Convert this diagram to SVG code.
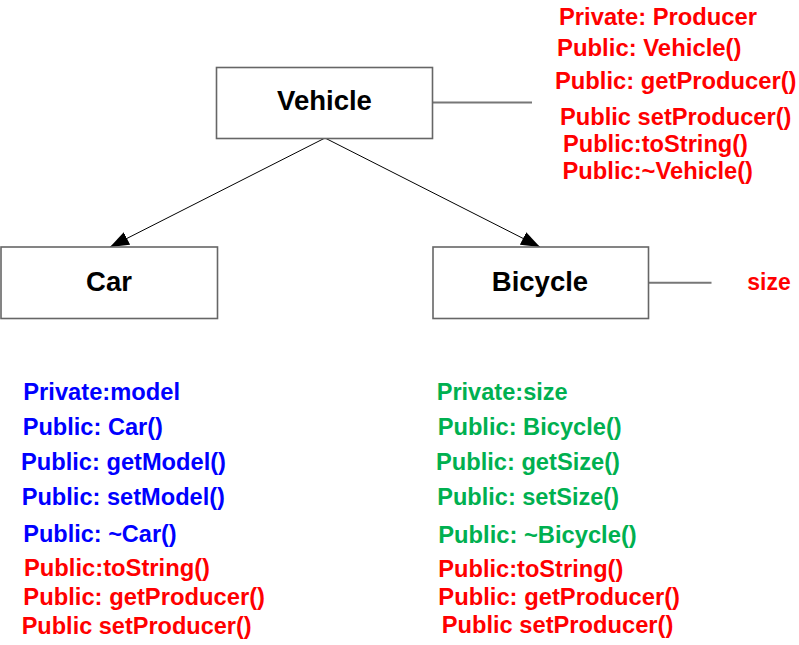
<svg xmlns="http://www.w3.org/2000/svg" width="799" height="645" viewBox="0 0 799 645">
<style>
.box{fill:#fff;stroke:#666;stroke-width:1.6}
.title{font-family:"Liberation Sans",Arial,sans-serif;font-weight:bold;font-size:27.5px;fill:#000;text-anchor:middle}
.m{font-family:"Liberation Sans",Arial,sans-serif;font-weight:bold;font-size:23.5px}
.r{fill:#FF0000}
.b{fill:#0000FF}
.g{fill:#00B050}
.conn{stroke:#000;stroke-width:1;fill:none}
.side{stroke:#777;stroke-width:2;fill:none}
</style>
<defs>
<marker id="arr" markerUnits="userSpaceOnUse" markerWidth="20" markerHeight="14" refX="19" refY="7" orient="auto">
<path d="M0,0 L19,7 L0,14 Z" fill="#000"/>
</marker>
</defs>
<rect width="799" height="645" fill="#fff"/>
<g id="connectors">
<line class="conn" x1="325" y1="138" x2="110" y2="247" marker-end="url(#arr)"/>
<line class="conn" x1="325" y1="138" x2="540" y2="247" marker-end="url(#arr)"/>
<line class="side" x1="433" y1="102.5" x2="532" y2="102.5"/>
<line class="side" x1="649" y1="282.7" x2="711.5" y2="282.7"/>
</g>
<g id="vehicle">
<rect class="box" x="216.5" y="67.5" width="216" height="71"/>
<text class="title" x="324.5" y="110">Vehicle</text>
</g>
<g id="car">
<rect class="box" x="1" y="247" width="216.5" height="71.5"/>
<text class="title" x="109" y="291">Car</text>
</g>
<g id="bicycle">
<rect class="box" x="433" y="247" width="215.5" height="71.5"/>
<text class="title" x="540" y="291">Bicycle</text>
</g>
<g id="vehicle-members" class="m r">
<text x="559" y="25" textLength="198" lengthAdjust="spacingAndGlyphs">Private: Producer</text>
<text x="557" y="56" textLength="184.5" lengthAdjust="spacingAndGlyphs">Public: Vehicle()</text>
<text x="555" y="89" textLength="241.5" lengthAdjust="spacingAndGlyphs">Public: getProducer()</text>
<text x="560" y="124.5" textLength="231.5" lengthAdjust="spacingAndGlyphs">Public setProducer()</text>
<text x="563" y="152" textLength="185" lengthAdjust="spacingAndGlyphs">Public:toString()</text>
<text x="562.5" y="178.5" textLength="190.5" lengthAdjust="spacingAndGlyphs">Public:~Vehicle()</text>
</g>
<g id="bicycle-attr" class="m r">
<text x="747.3" y="290" textLength="43.4" lengthAdjust="spacingAndGlyphs">size</text>
</g>
<g id="car-members" class="m">
<text class="b" x="23.3" y="400" textLength="156.7" lengthAdjust="spacingAndGlyphs">Private:model</text>
<text class="b" x="22.7" y="435" textLength="140.3" lengthAdjust="spacingAndGlyphs">Public: Car()</text>
<text class="b" x="21" y="470" textLength="205" lengthAdjust="spacingAndGlyphs">Public: getModel()</text>
<text class="b" x="21.7" y="505" textLength="203.3" lengthAdjust="spacingAndGlyphs">Public: setModel()</text>
<text class="b" x="23.3" y="542.3" textLength="153.4" lengthAdjust="spacingAndGlyphs">Public: ~Car()</text>
<text class="r" x="24" y="575.5" textLength="186" lengthAdjust="spacingAndGlyphs">Public:toString()</text>
<text class="r" x="23.3" y="605" textLength="241.7" lengthAdjust="spacingAndGlyphs">Public: getProducer()</text>
<text class="r" x="21.7" y="634" textLength="230" lengthAdjust="spacingAndGlyphs">Public setProducer()</text>
</g>
<g id="bicycle-members" class="m">
<text class="g" x="436.7" y="400" textLength="131" lengthAdjust="spacingAndGlyphs">Private:size</text>
<text class="g" x="437.7" y="435" textLength="184" lengthAdjust="spacingAndGlyphs">Public: Bicycle()</text>
<text class="g" x="436" y="469.5" textLength="184" lengthAdjust="spacingAndGlyphs">Public: getSize()</text>
<text class="g" x="437.3" y="505" textLength="181.7" lengthAdjust="spacingAndGlyphs">Public: setSize()</text>
<text class="g" x="438.3" y="543.3" textLength="198.4" lengthAdjust="spacingAndGlyphs">Public: ~Bicycle()</text>
<text class="r" x="438.3" y="577" textLength="185" lengthAdjust="spacingAndGlyphs">Public:toString()</text>
<text class="r" x="438.3" y="605" textLength="241.7" lengthAdjust="spacingAndGlyphs">Public: getProducer()</text>
<text class="r" x="441.7" y="633" textLength="231.6" lengthAdjust="spacingAndGlyphs">Public setProducer()</text>
</g>
</svg>
